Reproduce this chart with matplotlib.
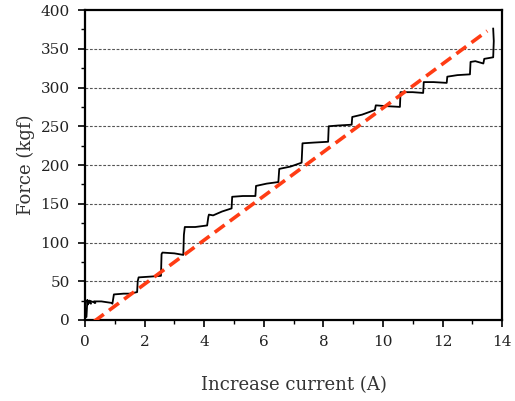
import matplotlib
matplotlib.use("Agg")
import matplotlib.pyplot as plt
from matplotlib.ticker import MultipleLocator

# Measured force vs increasing current (stepwise response)
current = [0.00, 0.05, 0.08, 0.10, 0.12, 0.20, 0.15, 0.35, 0.30, 0.55, 0.90, 0.92, 0.95,
           0.97, 1.30, 1.50, 1.75, 1.77, 1.80, 2.20, 2.55, 2.57, 2.60, 3.00, 3.30,
           3.32, 3.35, 3.70, 4.10, 4.14, 4.16, 4.30, 4.60, 4.92, 4.94, 5.30, 5.72,
           5.74, 6.10, 6.49, 6.52, 6.90, 7.27, 7.30, 7.70, 8.16, 8.18, 8.50, 8.95,
           8.97, 9.30, 9.73, 9.76, 10.10, 10.57, 10.59, 11.00, 11.35, 11.37, 11.70,
           12.14, 12.16, 12.50, 12.92, 12.94, 13.10, 13.37, 13.40, 13.70, 13.72,
           13.70]
force = [3, 4, 26, 20, 24, 21, 25, 22, 24, 24, 22, 21, 28,
         33, 34, 34, 36, 50, 55, 56, 57, 85, 87, 86, 84,
         110, 120, 120, 122, 133, 136, 135, 140, 144, 159, 160, 160,
         173, 176, 178, 195, 198, 203, 228, 229, 230, 250, 251, 252,
         262, 265, 271, 277, 276, 275, 294, 294, 293, 307, 307,
         306, 314, 316, 317, 333, 334, 331, 337, 339, 360,
         376]

# Linear trend (dashed red) endpoints
trend_current = [0.30, 13.50]
trend_force = [-2, 373]

grid_levels = [50, 100, 150, 200, 250, 300, 350]

plt.rcParams['font.family'] = ['DejaVu Serif']

fig = plt.figure(figsize=(5.15, 4.01), dpi=100)
ax = fig.add_axes([0.165, 0.202, 0.810, 0.773])

for g in grid_levels:
    ax.axhline(g, color='#555555', lw=0.8, ls=(0, (2.5, 1.5)), zorder=1)

ax.plot(current, force, color='black', lw=1.3, zorder=3)
ax.plot(trend_current, trend_force, color='#ff3c14', lw=2.6, ls=(0, (3.4, 1.8)), zorder=4)

ax.set_xlim(0, 14)
ax.set_ylim(0, 400)
ax.xaxis.set_major_locator(MultipleLocator(2))
ax.xaxis.set_minor_locator(MultipleLocator(1))
ax.yaxis.set_major_locator(MultipleLocator(50))
ax.yaxis.set_minor_locator(MultipleLocator(25))
ax.tick_params(which='major', direction='out', length=5, width=1.2, labelsize=11, pad=6,
               labelcolor='#222222')
ax.tick_params(which='minor', direction='out', length=3, width=1.0)
ax.tick_params(top=False, right=False)
for s in ax.spines.values():
    s.set_linewidth(1.6)

ax.set_xlabel('Increase current (A)', fontsize=13, labelpad=19, color='#333333')
ax.set_ylabel('Force (kgf)', fontsize=13, labelpad=4, color='#333333')

fig.savefig('out.png', dpi=100)
